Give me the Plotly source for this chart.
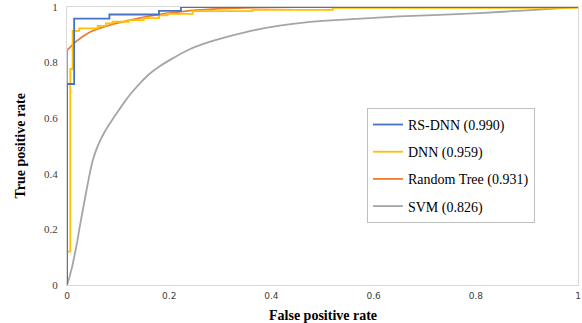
import plotly.graph_objects as go

# RS-DNN (step curve)
rs_fpr = [0, 0, 0.014, 0.083, 0.18, 0.223, 1.0]
rs_tpr = [0, 0.723, 0.958, 0.973, 0.986, 1.0, 1.0]

# DNN (step curve)
dnn_fpr = [0, 0, 0.0065, 0.011, 0.024, 0.06, 0.076, 0.089, 0.12, 0.15, 0.18, 0.197, 0.246, 0.363, 0.52, 1.0]
dnn_tpr = [0, 0.12, 0.777, 0.914, 0.923, 0.932, 0.941, 0.947, 0.953, 0.96, 0.97, 0.975, 0.985, 0.99, 0.997, 1.0]

# Random Tree
rt_fpr = [0, 0, 0.005, 0.01, 0.015, 0.03, 0.045, 0.063, 0.09, 0.128, 0.16, 0.194, 0.246, 0.3, 0.35, 0.45, 1.0]
rt_tpr = [0, 0.845, 0.853, 0.862, 0.872, 0.893, 0.91, 0.923, 0.938, 0.955, 0.967, 0.977, 0.988, 0.994, 0.997, 1.0, 1.0]

# SVM
svm_fpr = [0, 0.005, 0.01, 0.014, 0.02, 0.024, 0.03, 0.037, 0.044, 0.05, 0.057, 0.065, 0.075, 0.087, 0.1,
           0.115, 0.128, 0.145, 0.16, 0.18, 0.2, 0.24, 0.285, 0.35, 0.416, 0.5, 0.65, 0.807, 0.9, 1.0]
svm_tpr = [0, 0.03, 0.065, 0.1, 0.155, 0.2, 0.26, 0.33, 0.396, 0.445, 0.485, 0.52, 0.555, 0.59, 0.625,
           0.665, 0.695, 0.73, 0.757, 0.785, 0.808, 0.848, 0.878, 0.91, 0.933, 0.95, 0.966, 0.978, 0.988, 1.0]

x_ticks = [0, 0.2, 0.4, 0.6, 0.8, 1]
x_tick_labels = ["0", "0.2", "0.4", "0.6", "0.8", "1"]
y_ticks = [0, 0.2, 0.4, 0.6, 0.8, 1]
y_tick_labels = ["0", "0.2", "0.4", "0.6", "0.8", "1"]

serif = "Liberation Serif"

fig = go.Figure()
fig.add_trace(go.Scatter(x=svm_fpr, y=svm_tpr, mode="lines", name="SVM (0.826)", legendgroup="d", legendrank=4,
                         line=dict(color="#A5A5A5", width=1.8, shape="spline", smoothing=0.3)))
fig.add_trace(go.Scatter(x=rt_fpr, y=rt_tpr, mode="lines", name="Random Tree (0.931)", legendgroup="c", legendrank=3,
                         line=dict(color="#ED7D31", width=1.8)))
fig.add_trace(go.Scatter(x=dnn_fpr, y=dnn_tpr, mode="lines", name="DNN (0.959)", legendgroup="b", legendrank=2,
                         line=dict(color="#FFC000", width=1.8, shape="hv")))
fig.add_trace(go.Scatter(x=rs_fpr, y=rs_tpr, mode="lines", name="RS-DNN (0.990)", legendgroup="a", legendrank=1,
                         line=dict(color="#4472C4", width=1.8, shape="hv")))

fig.update_layout(
    width=582, height=323,
    margin=dict(l=67, r=4, t=7, b=38, autoexpand=False),
    paper_bgcolor="white", plot_bgcolor="white",
    showlegend=True,
    legend=dict(
        x=0.587, y=0.637, xanchor="left", yanchor="top",
        bordercolor="#BFBFBF", borderwidth=1, bgcolor="white",
        font=dict(family=serif, size=14, color="#000"),
        tracegroupgap=6, traceorder="grouped",
    ),
    xaxis=dict(
        range=[0, 1], tickvals=x_ticks, ticktext=x_tick_labels,
        showgrid=False, zeroline=False, showline=True, mirror=True,
        linecolor="#D9D9D9", linewidth=1, ticks="", automargin=False,
        tickfont=dict(family="DejaVu Sans", size=9, color="#404040"),
        ticklabelstandoff=2,
    ),
    yaxis=dict(
        range=[0, 1], tickvals=y_ticks, ticktext=y_tick_labels,
        showgrid=False, zeroline=False, showline=True, mirror=True,
        linecolor="#D9D9D9", linewidth=1, ticks="", automargin=False,
        tickfont=dict(family=serif, size=11, color="#404040"),
        ticklabelstandoff=6,
    ),
    annotations=[
        dict(text="<b>False positive rate</b>", xref="paper", yref="paper", x=0.5, y=0, yshift=-40,
             xanchor="center", yanchor="bottom", showarrow=False,
             font=dict(family=serif, size=14, color="#000")),
        dict(text="<b>True positive rate</b>", xref="paper", yref="paper", x=0, xshift=-57, y=0.5,
             xanchor="left", yanchor="middle", textangle=-90, showarrow=False,
             font=dict(family=serif, size=14, color="#000")),
    ],
)

fig.write_html("out.html", config={"displayModeBar": False},
               post_script="document.body.style.margin='0';document.body.style.padding='0';")
